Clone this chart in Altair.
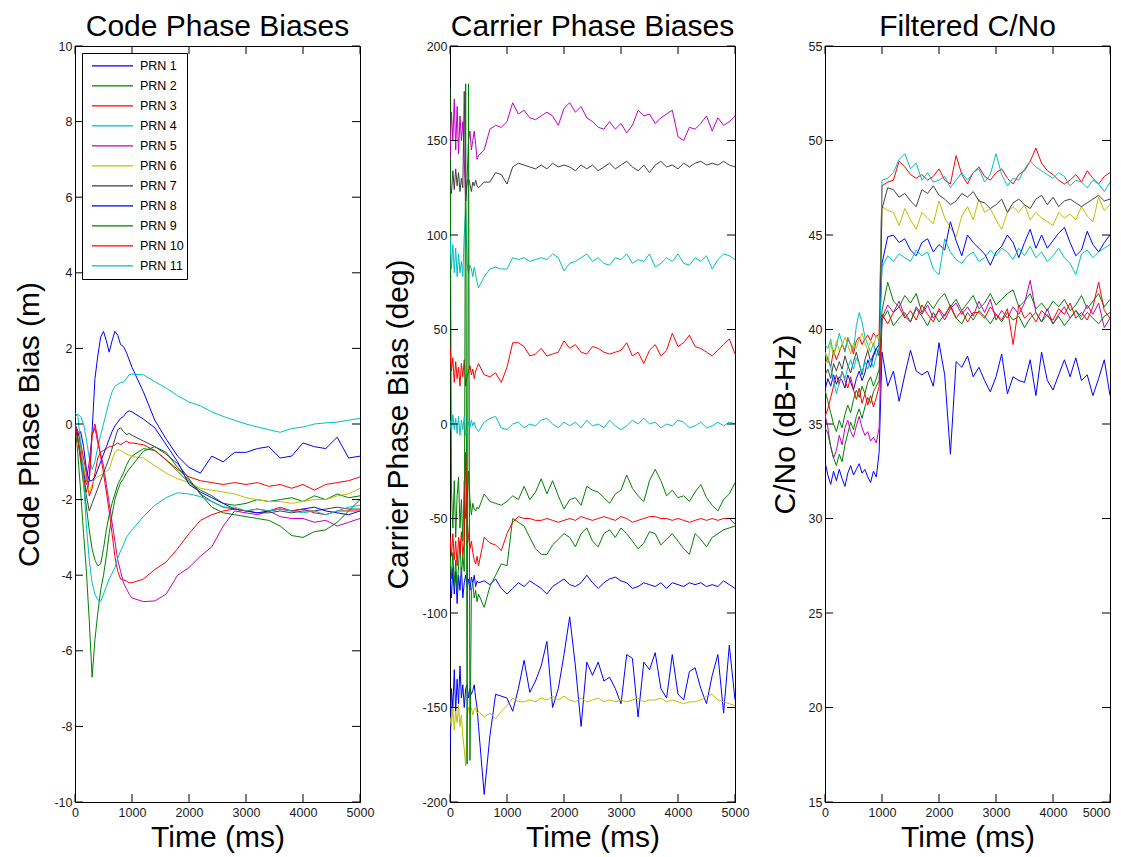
import altair as alt
import pandas as pd

# ---------------- data ----------------
PRN_NAMES = ["PRN 1", "PRN 2", "PRN 3", "PRN 4", "PRN 5", "PRN 6",
             "PRN 7", "PRN 8", "PRN 9", "PRN 10", "PRN 11"]
COLORS = ["#0000FF", "#008000", "#FF0000", "#00BFBF", "#BF00BF", "#BFBF00",
          "#404040", "#0000FF", "#008000", "#FF0000", "#00BFBF"]

X_TICKS = [0, 1000, 2000, 3000, 4000, 5000]
Y_TICKS_CODE = [-10, -8, -6, -4, -2, 0, 2, 4, 6, 8, 10]
Y_TICKS_CARR = [-200, -150, -100, -50, 0, 50, 100, 150, 200]
Y_TICKS_CNO = [15, 20, 25, 30, 35, 40, 45, 50, 55]

# --- Code phase biases (m) ---
T_CODE = [0, 50, 100, 150, 200, 250, 300, 350, 400, 450, 500, 550, 600, 650, 700, 750, 800, 850, 900, 950, 1000,
          1200, 1400, 1600, 1800, 2000, 2200, 2400, 2600, 2800, 3000, 3200, 3400, 3600, 3800, 4000, 4200, 4400, 4600, 4800, 5000]
CODE_PRN1 = [0.0, -0.3, -0.8, -1.3, -1.6, -1.5, -0.2, 1.2, 1.8, 2.3, 2.45, 2.2, 1.9, 2.2, 2.45, 2.35, 2.1, 2.05, 1.9, 1.7, 1.5,
             0.85, 0.1, -0.4, -0.85, -1.15, -1.3, -0.85, -1.0, -0.75, -0.75, -0.65, -0.6, -0.9, -0.85, -0.5, -0.6, -0.65, -0.35, -0.9, -0.85]
CODE_PRN2 = [0.0, -0.4, -1.0, -1.6, -2.2, -2.8, -3.3, -3.6, -3.75, -3.7, -3.3, -2.8, -2.4, -2.1, -1.85, -1.6, -1.45, -1.3, -1.1, -0.95, -0.85,
             -0.65, -0.7, -0.95, -1.25, -1.55, -1.75, -1.9, -2.1, -2.15, -2.1, -2.0, -2.05, -2.0, -1.95, -2.05, -1.9, -2.0, -1.85, -1.95, -1.9]
CODE_PRN3 = [0.0, -0.2, -0.5, -0.9, -1.3, -1.9, -1.7, -1.3, -0.9, -0.75, -0.7, -0.65, -0.6, -0.6, -0.55, -0.5, -0.55, -0.5, -0.45, -0.5, -0.5,
             -0.55, -0.7, -0.95, -1.2, -1.4, -1.5, -1.55, -1.6, -1.55, -1.6, -1.55, -1.65, -1.6, -1.7, -1.6, -1.75, -1.6, -1.55, -1.5, -1.4]
CODE_PRN4 = [0.2, 0.25, 0.2, 0.0, -0.4, -0.9, -1.2, -1.0, -0.6, -0.3, 0.0, 0.3, 0.6, 0.85, 1.0, 1.05, 1.1, 1.1, 1.2, 1.3, 1.32,
             1.3, 1.12, 0.95, 0.75, 0.58, 0.48, 0.32, 0.2, 0.1, 0.0, -0.08, -0.15, -0.22, -0.12, -0.08, 0.0, 0.03, 0.05, 0.1, 0.15]
CODE_PRN5 = [0.0, -0.2, -0.6, -1.2, -1.5, -1.0, -0.3, -0.1, -0.5, -0.8, -1.1, -1.6, -2.1, -2.6, -3.1, -3.6, -3.9, -4.2, -4.35, -4.5, -4.6,
             -4.7, -4.68, -4.5, -4.0, -3.8, -3.5, -3.25, -2.7, -2.3, -2.35, -2.4, -2.3, -2.45, -2.5, -2.5, -2.6, -2.55, -2.7, -2.6, -2.5]
CODE_PRN6 = [0.0, -0.3, -0.7, -1.1, -1.5, -1.8, -1.6, -1.45, -1.4, -1.35, -1.3, -1.25, -1.2, -0.95, -0.75, -0.68, -0.7, -0.75, -0.8, -0.82, -0.86,
             -0.9, -1.1, -1.3, -1.45, -1.55, -1.7, -1.75, -1.8, -1.85, -1.95, -2.0, -2.05, -2.05, -2.1, -2.05, -2.0, -2.0, -1.9, -1.85, -1.7]
CODE_PRN7 = [0.0, -0.4, -0.9, -1.4, -1.9, -2.3, -2.1, -1.9, -1.7, -1.5, -1.3, -1.1, -0.9, -0.65, -0.4, -0.15, -0.1, -0.2, -0.28, -0.25, -0.3,
             -0.45, -0.6, -0.8, -1.05, -1.45, -1.85, -2.05, -2.2, -2.25, -2.3, -2.35, -2.35, -2.3, -2.35, -2.3, -2.3, -2.25, -2.2, -2.25, -2.25]
CODE_PRN8 = [0.0, -0.3, -0.2, -0.6, -1.2, -1.5, -1.5, -1.4, -1.2, -1.0, -0.8, -0.6, -0.4, -0.2, -0.05, 0.05, 0.15, 0.2, 0.3, 0.35, 0.32,
             0.13, -0.1, -0.55, -1.0, -1.6, -1.8, -1.95, -2.1, -2.25, -2.3, -2.35, -2.3, -2.25, -2.3, -2.25, -2.2, -2.3, -2.35, -2.4, -2.3]
CODE_PRN9 = [0.0, -0.8, -1.8, -2.9, -3.9, -5.2, -6.7, -5.7, -5.0, -4.4, -4.0, -3.5, -2.9, -2.4, -2.0, -1.75, -1.55, -1.45, -1.3, -1.2, -1.1,
             -0.72, -0.6, -0.75, -1.15, -1.5, -1.85, -2.2, -2.35, -2.4, -2.45, -2.5, -2.55, -2.7, -2.95, -3.0, -2.85, -2.8, -2.6, -2.3, -2.0]
CODE_PRN10 = [0.0, -0.4, -0.9, -1.4, -1.8, -1.5, -0.3, 0.0, -0.4, -0.85, -1.3, -1.8, -2.3, -2.9, -3.5, -3.9, -4.1, -4.12, -4.15, -4.2, -4.2,
              -4.1, -3.85, -3.65, -3.3, -2.9, -2.55, -2.4, -2.3, -2.25, -2.3, -2.25, -2.3, -2.2, -2.3, -2.25, -2.35, -2.4, -2.3, -2.3, -2.3]
CODE_PRN11 = [0.3, 0.2, -0.5, -1.5, -2.7, -3.6, -4.2, -4.5, -4.65, -4.7, -4.5, -4.3, -4.1, -3.95, -3.8, -3.55, -3.35, -3.2, -3.0, -2.9, -2.8,
              -2.45, -2.15, -1.95, -1.82, -1.85, -1.92, -2.05, -2.2, -2.2, -2.3, -2.25, -2.3, -2.25, -2.3, -2.35, -2.3, -2.4, -2.3, -2.2, -2.15]

# --- Carrier phase biases (deg) ---
T_CARR = [0, 25, 50, 75, 100, 125, 150, 175, 200, 225, 250, 275, 300, 325, 350, 375, 400, 425, 450, 475,
          500, 600, 700, 800, 900, 1000, 1100, 1200, 1300, 1400, 1500, 1600, 1700, 1800, 1900, 2000, 2100, 2200, 2300,
          2400, 2500, 2600, 2700, 2800, 2900, 3000, 3100, 3200, 3300, 3400, 3500, 3600, 3700, 3800, 3900, 4000, 4100,
          4200, 4300, 4400, 4500, 4600, 4700, 4800, 4900, 5000]
CARR_PRN1 = [-175, -140, -150, -130, -152, -135, -148, -128, -145, -138, -150, -140, -138, -145, -140, -143, -141, -138, -145, -150,
             -160, -196, -165, -143, -144, -145, -152, -140, -125, -142, -136, -128, -115, -150, -140, -122, -102, -128, -160, -126,
             -133, -126, -136, -134, -140, -148, -122, -124, -155, -126, -130, -121, -140, -145, -122, -143, -146, -131, -129, -140,
             -148, -133, -122, -153, -117, -146]
CARR_PRN2 = [178, -35, -55, -30, -60, -38, -28, -55, -40, -62, -30, -50, -44, -25, -40, -48, -42, -45, -46, -44,
             -45, -37, -41, -42, -43, -41, -38, -40, -33, -40, -36, -29, -37, -30, -38, -45, -40, -39, -43, -33,
             -35, -36, -39, -42, -37, -35, -27, -34, -38, -41, -30, -24, -30, -38, -35, -39, -38, -41, -36, -32,
             -39, -43, -46, -40, -37, -31]
CARR_PRN3 = [41, 28, 35, 22, 33, 24, 30, 20, 32, 25, 34, 20, 25, 28, 31, 26, 29, 24, 28, 30,
             32, 26, 25, 27, 22, 30, 43, 43, 41, 36, 37, 40, 36, 37, 38, 44, 40, 42, 38, 37,
             41, 40, 38, 37, 38, 39, 43, 36, 38, 32, 39, 42, 36, 39, 48, 41, 43, 47, 41, 40,
             38, 36, 39, 42, 45, 37]
CARR_PRN4 = [100, 82, 95, 80, 93, 78, 90, 80, 86, 78, 100, 114, 85, 80, 84, 82, 78, 83, 79, 75,
             72, 78, 82, 83, 82, 82, 88, 87, 88, 86, 87, 88, 87, 90, 88, 81, 85, 86, 88, 90,
             86, 88, 85, 84, 88, 87, 90, 85, 87, 86, 90, 83, 85, 88, 86, 90, 85, 84, 88, 86,
             89, 82, 87, 90, 89, 87]
CARR_PRN5 = [140, 165, 150, 172, 145, 168, 143, 163, 150, 160, 140, 118, 130, 150, 155, 145, 150, 155, 148, 140,
             142, 145, 156, 158, 157, 160, 170, 164, 166, 162, 161, 163, 165, 163, 158, 167, 170, 165, 168, 162,
             160, 157, 156, 160, 156, 159, 154, 158, 166, 163, 164, 159, 162, 164, 166, 152, 150, 157, 156, 159,
             163, 155, 162, 158, 160, 163]
CARR_PRN6 = [-155, -160, -150, -162, -152, -158, -149, -160, -154, -165, -172, -181, -155, -150, -153, -150, -154, -151, -150, -153,
             -152, -155, -153, -156, -152, -149, -145, -147, -147, -146, -147, -145, -146, -144, -146, -144, -146, -147, -145, -147,
             -146, -145, -147, -146, -147, -146, -147, -146, -145, -147, -146, -146, -145, -147, -146, -147, -148, -147, -147, -146,
             -144, -143, -146, -147, -148, -149]
CARR_PRN7 = [128, 122, 134, 124, 135, 126, 133, 123, 130, 125, 176, 118, 128, 130, 127, 123, 128, 126, 129, 126,
             125, 128, 128, 133, 132, 127, 136, 138, 137, 136, 135, 137, 135, 138, 136, 137, 136, 134, 137, 135,
             137, 134, 136, 138, 135, 137, 139, 136, 134, 137, 133, 137, 139, 136, 137, 135, 138, 136, 138, 139,
             137, 138, 137, 139, 137, 136]
CARR_PRN8 = [-80, -92, -76, -90, -78, -95, -80, -88, -76, -92, -84, -80, -86, -82, -88, -81, -84, -80, -86, -83,
             -84, -83, -85, -82, -87, -90, -87, -84, -86, -83, -85, -87, -90, -86, -84, -82, -85, -86, -84, -80,
             -84, -87, -84, -82, -81, -83, -84, -87, -86, -84, -85, -86, -84, -87, -84, -85, -86, -84, -85, -84,
             -86, -85, -86, -83, -85, -87]
CARR_PRN9 = [-70, -82, -68, -85, -72, -88, -75, -62, -80, -70, -78, 180, -180, 180, -178, -88, -84, -92, -88, -94,
             -90, -97, -86, -80, -74, -75, -50, -52, -54, -60, -66, -69, -69, -64, -61, -58, -60, -65, -58, -55,
             -62, -65, -58, -56, -60, -55, -58, -62, -66, -63, -57, -58, -64, -61, -58, -62, -66, -69, -58, -61,
             -65, -60, -58, -56, -55, -54]
CARR_PRN10 = [-60, -70, -58, -72, -62, -75, -60, -68, -57, -70, -62, -15, -50, -60, -66, -62, -68, -72, -74, -70,
              -75, -60, -63, -64, -67, -58, -52, -49, -50, -50, -51, -51, -50, -51, -52, -51, -50, -51, -49, -50,
              -51, -50, -49, -50, -51, -49, -50, -52, -51, -50, -49, -49, -50, -50, -51, -50, -51, -52, -51, -50,
              -51, -50, -51, -50, -50, -53]
CARR_PRN11 = [2, -4, 5, -3, 3, -5, 4, -6, 2, -3, 4, -6, -3, 1, -2, 2, -1, 1, -2, -3,
              -4, 1, 3, 4, -2, -3, 0, 1, -2, 0, -1, 2, 3, 0, -2, 1, -1, 1, -2, 2,
              -1, 0, -2, 2, -1, -3, -1, 2, 0, 3, 0, 1, -2, 0, -1, 2, 1, -2, -1, 1,
              -2, -1, 1, -1, 1, 0]

# --- Filtered C/No (dB-Hz) ---
T_CNO = [0, 50, 100, 150, 200, 250, 300, 350, 400, 450, 500, 550, 600, 650, 700, 750, 800, 850, 900, 950,
         1000, 1100, 1200, 1300, 1400, 1500, 1600, 1700, 1800, 1900, 2000, 2100, 2200, 2300, 2400, 2500, 2600,
         2700, 2800, 2900, 3000, 3100, 3200, 3300, 3400, 3500, 3600, 3700, 3800, 3900, 4000, 4100, 4200, 4300,
         4400, 4500, 4600, 4700, 4800, 4900, 5000]
CNO_PRN1 = [33.0, 32.3, 31.8, 32.5, 32.0, 32.6, 32.1, 31.7, 32.4, 32.8, 32.3, 32.6, 32.9, 32.4, 32.6, 32.2, 31.9, 32.5, 32.2, 33.5,
            38.8, 37.0, 37.8, 36.2, 37.6, 38.9, 37.8, 37.6, 37.8, 37.0, 39.3, 37.6, 33.4, 38.3, 38.0, 38.6, 37.5, 38.0, 37.3, 36.7,
            37.5, 38.7, 36.6, 37.5, 37.3, 37.2, 38.4, 36.5, 38.8, 37.3, 36.8, 37.6, 38.4, 37.5, 38.5, 37.3, 37.6, 36.5, 37.4, 38.4, 36.5]
CNO_PRN2 = [36.8, 36.2, 35.6, 35.0, 34.6, 35.2, 34.8, 35.5, 36.0, 35.6, 36.3, 36.8, 36.4, 37.0, 36.6, 37.2, 37.5, 37.0, 37.4, 37.9,
            41.0, 42.5, 41.5, 41.2, 41.8, 41.4, 41.9, 40.9, 41.5, 41.1, 41.6, 41.9, 41.2, 41.6, 41.0, 41.4, 41.8, 41.1, 41.4, 41.9,
            41.3, 41.6, 41.9, 42.1, 41.2, 41.5, 41.9, 41.1, 41.4, 41.0, 41.5, 41.2, 41.6, 41.0, 41.3, 41.8, 41.1, 41.5, 41.9, 41.2, 41.6]
CNO_PRN3 = [38.2, 38.5, 38.0, 38.9, 38.4, 38.8, 39.2, 38.9, 39.5, 39.2, 38.7, 39.4, 39.6, 39.2, 39.5, 39.7, 39.4, 39.8, 39.6, 39.8,
            47.6, 47.8, 47.9, 48.9, 48.6, 48.2, 48.0, 48.2, 47.9, 48.1, 48.5, 47.9, 47.7, 49.2, 48.2, 47.7, 48.3, 48.6, 48.1, 47.9,
            48.3, 48.5, 48.0, 47.7, 48.2, 48.4, 48.9, 49.6, 48.8, 48.4, 48.2, 47.9, 47.7, 47.9, 48.2, 47.8, 48.4, 48.0, 47.7, 48.1, 48.3]
CNO_PRN4 = [39.2, 39.0, 39.5, 38.6, 39.1, 39.8, 39.3, 38.8, 39.6, 39.2, 38.9, 40.2, 40.9, 40.4, 39.6, 39.2, 38.8, 39.3, 38.6, 39.0,
            47.9, 48.0, 48.3, 49.0, 49.3, 48.5, 48.8, 47.9, 48.3, 47.8, 47.9, 48.1, 47.5, 47.9, 48.3, 47.9, 48.3, 48.5, 47.8, 48.2,
            49.3, 48.2, 47.6, 48.0, 47.9, 48.5, 48.9, 48.6, 48.4, 48.2, 48.0, 48.3, 48.1, 47.6, 47.9, 47.8, 47.5, 47.9, 47.7, 47.3, 47.8]
CNO_PRN5 = [35.5, 34.8, 33.8, 33.2, 33.6, 34.4, 33.9, 34.8, 35.2, 34.6, 34.3, 34.9, 35.4, 34.8, 34.4, 34.6, 34.1, 34.3, 34.0, 34.8,
            40.6, 41.3, 40.9, 41.5, 40.7, 40.4, 41.2, 40.8, 41.3, 40.6, 41.0, 40.5, 41.1, 41.4, 40.8, 41.2, 40.7, 41.5, 40.9, 41.6,
            40.5, 41.0, 40.6, 41.2, 40.8, 41.4, 42.6, 40.9, 40.4, 41.1, 40.3, 40.8, 41.2, 40.6, 41.0, 40.7, 41.3, 40.8, 41.4, 40.1, 40.6]
CNO_PRN6 = [38.8, 38.2, 39.3, 38.6, 39.4, 38.9, 39.1, 39.6, 39.2, 38.7, 39.3, 39.0, 39.5, 39.8, 39.3, 38.9, 39.4, 39.1, 39.7, 39.4,
            46.5, 46.3, 46.2, 45.5, 46.4, 45.8, 45.3, 46.2, 45.9, 45.6, 46.8, 45.9, 45.4, 44.9, 46.0, 46.5, 45.8, 46.9, 46.2, 46.4,
            45.8, 45.3, 46.2, 46.5, 46.2, 46.6, 45.8, 46.2, 45.9, 45.7, 45.5, 46.2, 45.9, 46.1, 45.8, 46.5, 46.0, 45.7, 47.0, 46.3, 46.6]
CNO_PRN7 = [37.6, 37.9, 37.4, 38.2, 37.8, 38.3, 37.9, 38.6, 38.1, 37.7, 38.3, 38.8, 38.2, 37.6, 38.4, 38.9, 38.3, 38.7, 39.0, 38.6,
            46.4, 47.5, 47.4, 47.0, 47.2, 46.8, 46.5, 47.4, 47.2, 47.6, 47.1, 46.9, 46.6, 46.8, 47.2, 47.0, 47.3, 46.8, 46.7, 46.4,
            46.6, 46.9, 46.2, 46.7, 46.9, 46.6, 46.4, 46.9, 47.1, 46.6, 47.0, 46.5, 46.8, 46.9, 46.7, 46.5, 46.7, 46.9, 47.1, 46.8, 46.9]
CNO_PRN8 = [36.8, 37.4, 37.0, 37.6, 37.1, 37.5, 37.3, 36.9, 37.6, 37.2, 36.8, 37.4, 37.8, 37.3, 37.7, 38.4, 38.0, 38.6, 39.0, 39.2,
            43.5, 44.9, 45.0, 44.6, 44.8, 44.2, 43.9, 44.6, 44.8, 44.1, 44.5, 44.2, 45.7, 44.7, 43.9, 45.0, 44.6, 44.3, 44.0, 43.4,
            44.1, 44.4, 45.0, 44.6, 43.8, 44.6, 45.3, 44.3, 45.0, 44.3, 44.7, 45.1, 45.4, 44.6, 43.9, 44.2, 45.2, 44.5, 44.1, 44.6, 45.0]
CNO_PRN9 = [34.8, 34.5, 33.8, 33.2, 32.8, 33.4, 33.0, 33.9, 34.5, 35.1, 34.7, 35.4, 35.8, 35.3, 35.9, 36.4, 36.1, 36.7, 37.0, 37.3,
            40.5, 41.0, 40.2, 40.6, 40.9, 40.4, 41.1, 40.7, 40.2, 40.9, 40.4, 40.8, 41.2, 40.6, 40.3, 40.9, 40.5, 41.0, 40.7, 40.3,
            40.8, 40.4, 40.9, 40.5, 40.7, 40.1, 40.6, 40.9, 40.4, 40.8, 40.3, 40.7, 40.2, 40.6, 41.0, 40.5, 40.9, 40.6, 40.3, 40.7, 40.9]
CNO_PRN10 = [35.4, 35.8, 36.4, 37.0, 37.6, 37.1, 37.8, 37.3, 36.9, 37.5, 36.8, 36.3, 36.9, 36.1, 36.6, 36.0, 36.5, 35.9, 36.4, 37.0,
             40.8, 40.3, 40.9, 41.2, 40.6, 41.0, 40.5, 41.3, 40.8, 40.4, 41.1, 40.7, 41.3, 40.6, 41.0, 40.4, 40.9, 40.9, 40.6, 41.2,
             40.8, 40.5, 41.1, 39.2, 41.3, 40.6, 40.9, 40.4, 41.0, 40.7, 40.5, 41.1, 40.8, 41.4, 40.6, 40.9, 40.5, 41.2, 42.5, 41.0, 40.6]
CNO_PRN11 = [38.8, 38.5, 38.0, 37.3, 36.6, 37.2, 37.8, 37.4, 38.0, 38.4, 37.9, 38.5, 38.2, 37.7, 38.3, 37.9, 38.4, 38.0, 38.6, 38.9,
             43.3, 43.9, 43.6, 44.0, 43.8, 43.6, 44.2, 43.9, 44.1, 43.2, 42.9, 44.8, 44.1, 43.7, 43.5, 43.9, 44.1, 43.6, 43.8, 44.2,
             43.9, 44.3, 44.1, 43.7, 44.3, 43.9, 44.4, 43.8, 44.1, 43.6, 43.9, 44.3, 43.8, 43.5, 42.9, 44.0, 44.2, 43.8, 44.1, 44.3, 44.5]


def long_table(times, columns):
    rows = []
    for name, values in zip(PRN_NAMES, columns):
        assert len(values) == len(times), (name, len(values), len(times))
        rows += [{"t": t, "v": v, "prn": name} for t, v in zip(times, values)]
    return pd.DataFrame(rows)


code_df = long_table(T_CODE, [CODE_PRN1, CODE_PRN2, CODE_PRN3, CODE_PRN4, CODE_PRN5, CODE_PRN6,
                              CODE_PRN7, CODE_PRN8, CODE_PRN9, CODE_PRN10, CODE_PRN11])
carr_df = long_table(T_CARR, [CARR_PRN1, CARR_PRN2, CARR_PRN3, CARR_PRN4, CARR_PRN5, CARR_PRN6,
                              CARR_PRN7, CARR_PRN8, CARR_PRN9, CARR_PRN10, CARR_PRN11])
cno_df = long_table(T_CNO, [CNO_PRN1, CNO_PRN2, CNO_PRN3, CNO_PRN4, CNO_PRN5, CNO_PRN6,
                            CNO_PRN7, CNO_PRN8, CNO_PRN9, CNO_PRN10, CNO_PRN11])

# ---------------- chart ----------------
FONT = "Liberation Sans"
W, H = 285, 756
TICK = 8


def panel(df, title, ytitle, ydomain, yticks, ytitle_pad, show_legend, last_right=False):
    xs = alt.Scale(domain=[0, 5000], nice=False, zero=False)
    ys = alt.Scale(domain=ydomain, nice=False, zero=False)
    xkw = dict(values=X_TICKS, title="Time (ms)", labelFlush=False,
               labelPadding=4, titlePadding=4, labelExpr="toString(datum.value)")
    if last_right:
        xkw["labelAlign"] = alt.ExprRef(expr="datum.value == 5000 ? 'right' : 'center'")
    x_axis = alt.Axis(**xkw)
    y_axis = alt.Axis(values=yticks, title=ytitle, labelPadding=3,
                      titlePadding=ytitle_pad, labelExpr="toString(datum.value)")
    X = alt.X("t:Q", scale=xs, axis=x_axis)
    Y = alt.Y("v:Q", scale=ys, axis=y_axis)
    if show_legend:
        legend = alt.Legend(title=None, orient="none", legendX=7, legendY=7,
                            symbolType="stroke", symbolSize=1681, symbolStrokeWidth=1.2,
                            labelFont=FONT, labelFontSize=12.5, labelColor="black",
                            clipHeight=19.6, rowPadding=0, padding=3,
                            strokeColor="black", fillColor="white",
                            labelOffset=6, symbolOffset=6)
    else:
        legend = None
    lines = alt.Chart(df).mark_line(strokeWidth=1, clip=True).encode(
        x=X, y=Y,
        color=alt.Color("prn:N", scale=alt.Scale(domain=PRN_NAMES, range=COLORS), legend=legend),
    )
    ytick_src = alt.Chart(pd.DataFrame({"v": yticks})).mark_rule(color="black", strokeWidth=1)
    xtick_src = alt.Chart(pd.DataFrame({"t": X_TICKS})).mark_rule(color="black", strokeWidth=1)
    left = ytick_src.encode(y=Y, x=alt.value(0), x2=alt.value(TICK))
    right = ytick_src.encode(y=Y, x=alt.value(W - TICK), x2=alt.value(W))
    bottom = xtick_src.encode(x=X, y=alt.value(H - TICK), y2=alt.value(H))
    top = xtick_src.encode(x=X, y=alt.value(0), y2=alt.value(TICK))
    return alt.layer(lines, left, right, bottom, top).properties(
        width=W, height=H, title=alt.Title(title))


p1 = panel(code_df, "Code Phase Biases", "Code Phase Bias (m)", [-10, 10], Y_TICKS_CODE, 9, True)
p2 = panel(carr_df, "Carrier Phase Biases", "Carrier Phase Bias (deg)", [-200, 200], Y_TICKS_CARR, 8.5, False)
p3 = panel(cno_df, "Filtered C/No", "C/No (dB-Hz)", [15, 55], Y_TICKS_CNO, 8, False, last_right=True)

chart = (
    alt.hconcat(p1, p2, p3, spacing=90, bounds="flush")
    .resolve_scale(x="independent", y="independent", color="independent")
    .resolve_legend(color="independent")
    .properties(padding={"left": 6, "top": 3, "right": 0, "bottom": 0})
    .configure_view(stroke="black", strokeWidth=1)
    .configure_axis(labelFont=FONT, labelFontSize=12.5, labelColor="#1a1a1a",
                    titleFont=FONT, titleFontSize=30, titleFontWeight="normal", titleColor="black",
                    ticks=False, tickSize=0, grid=False, domainColor="black", domainWidth=1)
    .configure_title(font=FONT, fontSize=30, fontWeight="normal", color="black",
                     anchor="middle", baseline="alphabetic", offset=-2)
)

chart.save("out.html", embed_options={"renderer": "svg", "actions": False})
